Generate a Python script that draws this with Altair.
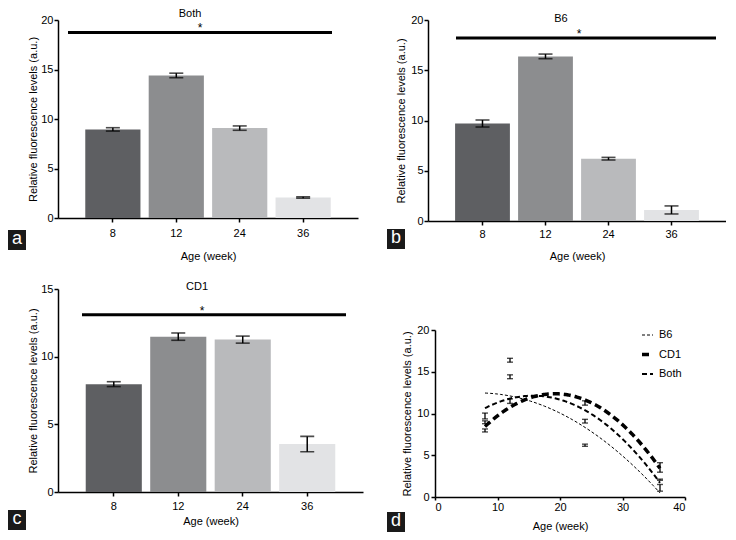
import altair as alt
import pandas as pd

# ---------------- data ----------------
ages = ["8", "12", "24", "36"]
age_num = [8, 12, 24, 36]
bar_colors = ["#5e5f62", "#8c8d8f", "#b9babc", "#e2e3e5"]

both_mean = [8.95, 14.40, 9.08, 2.07]
both_err = [0.17, 0.23, 0.22, 0.07]
b6_mean = [9.70, 16.38, 6.20, 1.10]
b6_err = [0.35, 0.23, 0.13, 0.40]
cd1_mean = [7.97, 11.48, 11.26, 3.54]
cd1_err = [0.18, 0.27, 0.26, 0.57]

series_names = ["B6", "CD1", "Both"]
y_ticks_20 = [0, 5, 10, 15, 20]
y_ticks_15 = [0, 5, 10, 15]
x_ticks_d = [0, 10, 20, 30, 40]

sig_both = 18.75
sig_b6 = 18.2
sig_cd1 = 13.1

# line styles of the fitted curves (style, not data)
line_dash = {"B6": [3, 2], "CD1": [7, 4], "Both": [5, 3]}
line_width = {"B6": 1.0, "CD1": 3.5, "Both": 2.0}

YTITLE = "Relative fluorescence levels (a.u.)"
XTITLE = "Age (week)"
FONT = "Liberation Sans"


def frame(mean, err):
    return pd.DataFrame({
        "age": ages,
        "mean": mean,
        "lo": [m - e for m, e in zip(mean, err)],
        "hi": [m + e for m, e in zip(mean, err)],
    })


ONE = pd.DataFrame({"k": [0]})


def letter_layers(letter, lx, ly):
    box = alt.Chart(ONE).mark_rect(color="#1a1a1a").encode(
        x=alt.value(lx), x2=alt.value(lx + 18),
        y=alt.value(ly), y2=alt.value(ly + 20))
    txt = alt.Chart(ONE).mark_text(
        text=letter, color="white", fontSize=18, font=FONT,
        align="center", baseline="middle").encode(
        x=alt.value(lx + 9), y=alt.value(ly + 9))
    return [box, txt]


def bar_panel(title, mean, err, ymax, yticks, sig, width, height,
              rule_x, star_x, title_x, title_y, letter, letter_x, letter_y,
              y_tp, x_lp, x_tp):
    df = frame(mean, err)
    one = pd.DataFrame({"sig": [sig]})
    xenc = alt.X("age:N", sort=ages, title=XTITLE,
                 scale=alt.Scale(paddingInner=0.13, paddingOuter=0.43),
                 axis=alt.Axis(labelAngle=0, tickSize=4, labelPadding=x_lp,
                               titlePadding=x_tp))
    ysc = alt.Scale(domain=[0, ymax])
    yax = alt.Axis(values=yticks, tickSize=4, labelPadding=1,
                   titlePadding=y_tp, grid=False)

    def Y(f):
        return alt.Y(f, scale=ysc, axis=yax, title=YTITLE)

    bars = alt.Chart(df).mark_bar().encode(
        x=xenc, y=Y("mean:Q"),
        color=alt.Color("age:N", scale=alt.Scale(domain=ages, range=bar_colors),
                        legend=None))
    stem = alt.Chart(df).mark_rule(color="black", strokeWidth=1.5).encode(
        x=xenc, y=Y("lo:Q"), y2="hi:Q")
    cap_lo = alt.Chart(df).mark_tick(color="black", size=14, thickness=1.6).encode(
        x=xenc, y=Y("lo:Q"))
    cap_hi = alt.Chart(df).mark_tick(color="black", size=14, thickness=1.6).encode(
        x=xenc, y=Y("hi:Q"))
    sig_line = alt.Chart(one).mark_rule(color="black", strokeWidth=3).encode(
        x=alt.value(rule_x[0]), x2=alt.value(rule_x[1]), y=Y("sig:Q"))
    star = alt.Chart(one).mark_text(text="*", fontSize=12, font=FONT,
                                    baseline="alphabetic", align="center").encode(
        x=alt.value(star_x), y=Y("sig:Q"))
    ttl = alt.Chart(one).mark_text(text=title, fontSize=11, font=FONT,
                                   baseline="alphabetic", align="center").encode(
        x=alt.value(title_x), y=alt.value(title_y))
    layers = [bars, stem, cap_lo, cap_hi, sig_line, star, ttl]
    layers += letter_layers(letter, letter_x, letter_y)
    return alt.layer(*layers).properties(width=width, height=height)


a = bar_panel("Both", both_mean, both_err, 20, y_ticks_20, sig_both, 300, 198,
              (10, 274), 142, 132, -3, "a", -50, 198 + 12, 2, 5, 12)
b = bar_panel("B6", b6_mean, b6_err, 20, y_ticks_20, sig_b6, 298, 201,
              (28, 288), 151, 133, 2, "b", -41, 201 + 8, 4, 3, 11)
c = bar_panel("CD1", cd1_mean, cd1_err, 15, y_ticks_15, sig_cd1, 305, 203,
              (24, 288), 144, 139, 1, "c", -50, 203 + 18, 2, 4, 4)

# ---------------- panel d ----------------
long = pd.DataFrame({
    "series": ["Both"] * 4 + ["B6"] * 4 + ["CD1"] * 4,
    "age": age_num * 3,
    "mean": both_mean + b6_mean + cd1_mean,
    "err": both_err + b6_err + cd1_err,
})
long["lo"] = long["mean"] - long["err"]
long["hi"] = long["mean"] + long["err"]

wd, hd = 250, 167
xd = alt.X("age:Q", title=XTITLE, scale=alt.Scale(domain=[0, 40]),
           axis=alt.Axis(values=x_ticks_d, tickSize=3, labelPadding=1,
                         titlePadding=8, grid=False))
yd_sc = alt.Scale(domain=[0, 20])
yd_ax = alt.Axis(values=y_ticks_20, tickSize=4, labelPadding=2,
                 titlePadding=4, grid=False)


def Yd(f):
    return alt.Y(f, scale=yd_sc, axis=yd_ax, title=YTITLE)


stems = alt.Chart(long).mark_rule(color="black", strokeWidth=1.3).encode(
    x=xd, y=Yd("lo:Q"), y2="hi:Q")
caps_lo = alt.Chart(long).mark_tick(color="black", orient="horizontal", size=6,
                                    thickness=1.4).encode(x=xd, y=Yd("lo:Q"))
caps_hi = alt.Chart(long).mark_tick(color="black", orient="horizontal", size=6,
                                    thickness=1.4).encode(x=xd, y=Yd("hi:Q"))

d_layers = [stems, caps_lo, caps_hi]
for i, s in enumerate(series_names):
    fit = alt.Chart(long).transform_filter(alt.datum.series == s).transform_regression(
        "age", "mean", method="poly", order=2, extent=[8, 36]
    ).mark_line(color="black", strokeDash=line_dash[s],
                strokeWidth=line_width[s]).encode(x=xd, y=Yd("mean:Q"))
    d_layers.append(fit)
    # legend entry (drawn by hand, inside the plot's top-right corner)
    ly = 5 + 19.5 * i
    sym = alt.Chart(ONE).mark_rule(color="black", strokeDash=line_dash[s],
                                   strokeWidth=line_width[s]).encode(
        x=alt.value(207), x2=alt.value(218), y=alt.value(ly))
    lab = alt.Chart(ONE).mark_text(text=s, fontSize=11, font=FONT, align="left",
                                   baseline="middle", color="black").encode(
        x=alt.value(224), y=alt.value(ly))
    d_layers += [sym, lab]

d_layers += letter_layers("d", -48, hd + 15)
d_plot = alt.layer(*d_layers).properties(width=wd, height=hd)

spacer = alt.Chart(ONE).mark_point(opacity=0).encode(
    x=alt.value(0), y=alt.value(0)).properties(width=wd, height=35)
d = alt.vconcat(spacer, d_plot, spacing=0)

chart = alt.vconcat(
    alt.hconcat(a, b, spacing=29),
    alt.hconcat(c, d, spacing=24),
    spacing=20,
).properties(padding=0).configure_view(stroke=None).configure_axis(
    domainColor="black", tickColor="black", domainWidth=1.5, tickWidth=1.5,
    labelColor="black", titleColor="black", labelFont=FONT, titleFont=FONT,
    labelFontSize=11, titleFontSize=11, titleFontWeight="normal",
)

chart.save("out.html", embed_options={"renderer": "svg", "actions": False})
